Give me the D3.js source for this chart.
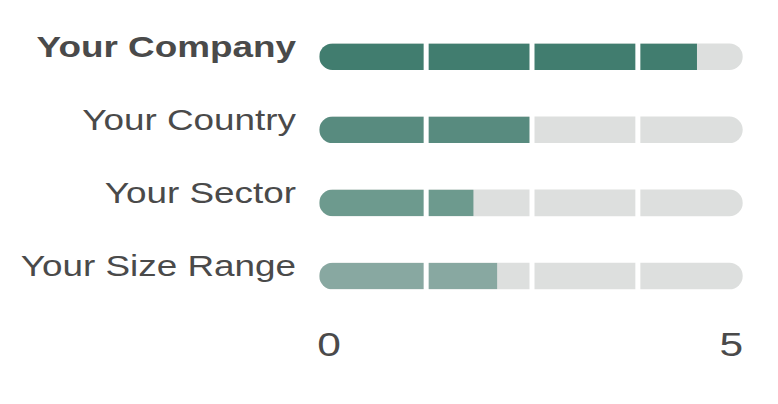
<!DOCTYPE html>
<html>
<head>
<meta charset="utf-8">
<script src="https://cdn.jsdelivr.net/npm/d3@7"></script>
<style>
  html, body { margin: 0; padding: 0; background: #fff; }
  svg { display: block; }
</style>
</head>
<body>
<div id="chart"></div>
<script>
// Data
const categories = ["Your Company", "Your Country", "Your Sector", "Your Size Range"];
const scores = [4.46, 2.5, 1.82, 2.1];
const gridMarks = [1.25, 2.5, 3.75];
const tickLabels = [0, 5];

// Dimensions
const width = 778,
  height = 404;

const barColors = ["#417d6f", "#588b7f", "#6d9a8e", "#88a8a1"];
const trackColor = "#dddfde";
const textColor = "#4a4a4a";
const barHeight = 26.6;
const stretch = 1.25; // glyphs in the picture are a little wider than Helvetica

const svg = d3.select("#chart")
  .append("svg")
  .attr("width", width)
  .attr("height", height);

// Scales
const x = d3.scaleLinear()
  .domain([0, 5])
  .range([319.3, 742.7]);

const y = d3.scalePoint()
  .domain(categories)
  .range([56.7, 276]);

const rows = svg.selectAll(".row")
  .data(categories)
  .enter()
  .append("g")
  .attr("class", "row")
  .attr("transform", d => "translate(0," + y(d) + ")");

// Clip paths so the fill keeps the rounded left end
rows.append("clipPath")
  .attr("id", (d, i) => "clip" + i)
  .append("rect")
  .attr("x", x(0))
  .attr("y", -barHeight / 2)
  .attr("width", x(5) - x(0))
  .attr("height", barHeight)
  .attr("rx", barHeight / 2);

// Background track
rows.append("rect")
  .attr("x", x(0))
  .attr("y", -barHeight / 2)
  .attr("width", x(5) - x(0))
  .attr("height", barHeight)
  .attr("rx", barHeight / 2)
  .attr("fill", trackColor);

// Score fill
rows.append("rect")
  .attr("clip-path", (d, i) => "url(#clip" + i + ")")
  .attr("x", x(0))
  .attr("y", -barHeight / 2)
  .attr("width", (d, i) => x(scores[i]) - x(0))
  .attr("height", barHeight)
  .attr("fill", (d, i) => barColors[i]);

// White separators
rows.selectAll(".sep")
  .data(gridMarks)
  .enter()
  .append("rect")
  .attr("class", "sep")
  .attr("x", d => x(d) - 1.5)
  .attr("y", -barHeight / 2 - 1)
  .attr("width", 5)
  .attr("height", barHeight + 2)
  .attr("fill", "#fff");

// Category labels
rows.append("g")
  .attr("transform", "translate(296,0) scale(" + stretch + ",1)")
  .append("text")
  .attr("text-anchor", "end")
  .style("font-family", "'Liberation Sans', Arial, Helvetica, sans-serif")
  .style("font-size", "29.5px")
  .style("font-weight", (d, i) => i === 0 ? "bold" : "normal")
  .style("fill", textColor)
  .text(d => d);

// Axis labels
svg.selectAll(".tick-label")
  .data(tickLabels)
  .enter()
  .append("g")
  .attr("class", "tick-label")
  .attr("transform", (d, i) => "translate(" + (i === 0 ? x(d) - 2 : x(d) + 0.5) + ",356) scale(" + stretch + ",1)")
  .append("text")
  .attr("text-anchor", (d, i) => i === 0 ? "start" : "end")
  .style("font-family", "'Liberation Sans', Arial, Helvetica, sans-serif")
  .style("font-size", "34px")
  .style("fill", textColor)
  .text(d => d);
</script>
</body>
</html>
